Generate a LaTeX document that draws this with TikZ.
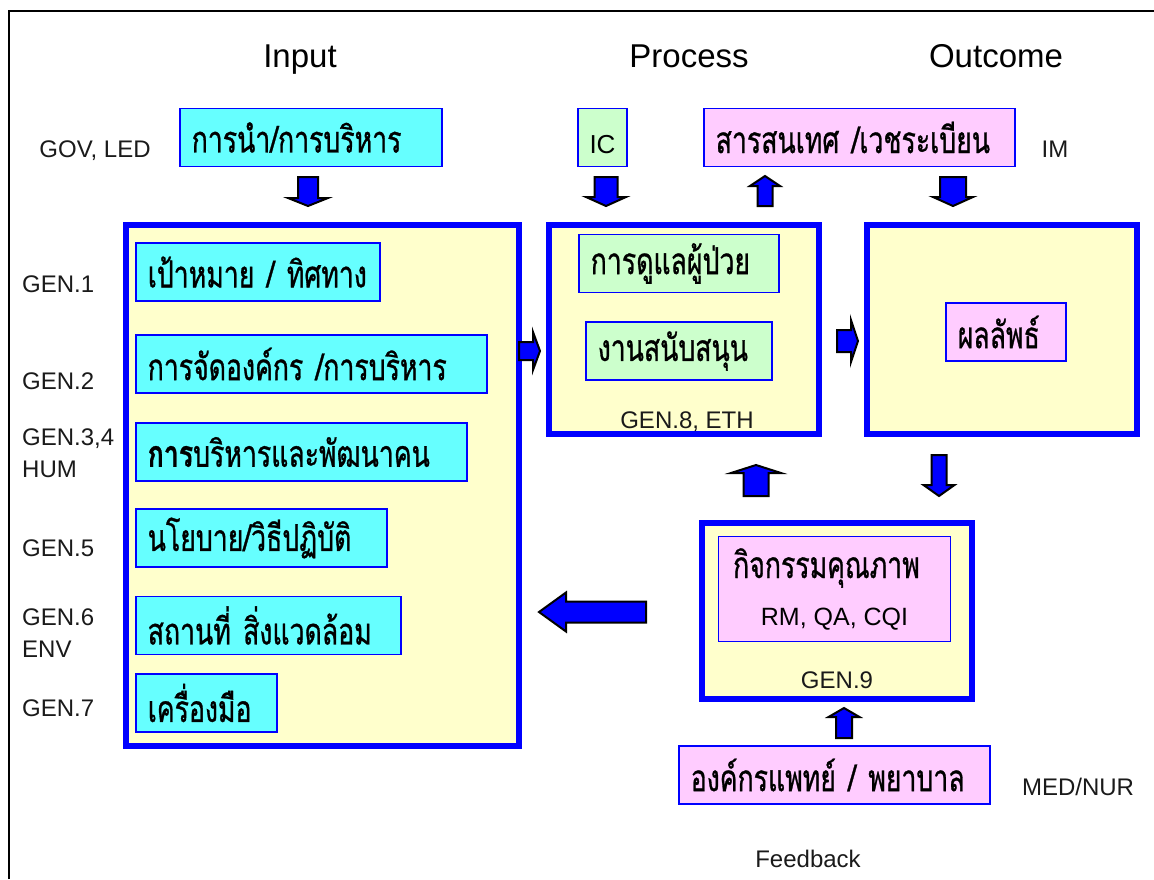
\documentclass[tikz,border=0pt]{standalone}
\usepackage{fontspec}
\setmainfont{Liberation Sans}
\newfontfamily\thaifont[Script=Thai,FakeStretch=0.72,FakeBold=0.8]{Loma}
\usetikzlibrary{calc}

\definecolor{boxblue}{HTML}{0000FF}
\definecolor{stagefill}{HTML}{FFFFCC}
\definecolor{cyanfill}{HTML}{66FFFF}
\definecolor{greenfill}{HTML}{CCFFCC}
\definecolor{pinkfill}{HTML}{FFCCFF}
\definecolor{labelgray}{HTML}{1A1A1A}

\newcommand{\thaisize}{\thaifont\fontsize{37}{40}\selectfont}

\begin{document}
\begin{tikzpicture}[x=1pt,y=-1pt]
\tikzset{
  frameline/.style={draw=black,line width=2pt},
  heading/.style={font=\fontsize{33}{36}\selectfont,anchor=base,inner sep=0pt},
  sidelabel/.style={font=\fontsize{24}{26}\selectfont,text=labelgray,anchor=base west,inner sep=0pt},
  midlabel/.style={font=\fontsize{24}{26}\selectfont,text=labelgray,anchor=base,inner sep=0pt},
  stagebox/.style={draw=boxblue,line width=6pt,fill=stagefill},
  itembox/.style={draw=boxblue,line width=1.5pt,minimum height=58,inner xsep=12pt,
    anchor=west,align=left,font=\thaisize},
  arrowbody/.style={draw=black,fill=boxblue,line width=2pt,line join=miter},
  pics/fatarrow/.style args={#1/#2/#3/#4}{code={
    \filldraw[arrowbody] (0,-#2/2) -- (#1-#4,-#2/2) -- (#1-#4,-#3/2) -- (#1,0)
      -- (#1-#4,#3/2) -- (#1-#4,#2/2) -- (0,#2/2) -- cycle;}}
}
\useasboundingbox (0,0) rectangle (1154,879);
\draw[frameline] (9,879) -- (9,11) -- (1154,11);

% headings
\node[heading] (h_input) at (300,67) {Input};
\node[heading] (h_process) at (689,67) {Process};
\node[heading] (h_outcome) at (996,67) {Outcome};

% stage boxes
\node[stagebox,minimum width=393,minimum height=521] (inputbox) at (322.5,485.5) {};
\node[stagebox,minimum width=270,minimum height=209] (procbox) at (684,329.5) {};
\node[stagebox,minimum width=270,minimum height=209] (outbox) at (1002,329.5) {};
\node[stagebox,minimum width=270,minimum height=176] (qualbox) at (837,611) {};

% top row
\node[itembox,fill=cyanfill,text width=238] (leadbox) at (179,137.5) {การนำ/การบริหาร};
\node[draw=boxblue,line width=1.5pt,fill=greenfill,minimum width=49,minimum height=58,
  inner sep=0pt,text height=31pt,text depth=0pt,font=\fontsize{26}{28}\selectfont] (icbox) at (602.5,137.5) {IC};
\node[itembox,fill=pinkfill,text width=287] (infobox) at (703,137.5) {สารสนเทศ /เวชระเบียน};

% input items
\node[itembox,fill=cyanfill,text width=220] (goalbox) at (135,272) {เป้าหมาย / ทิศทาง};
\node[itembox,fill=cyanfill,text width=327] (orgbox) at (135,364) {การจัดองค์กร /การบริหาร};
\node[itembox,fill=cyanfill,text width=307] (hrbox) at (135,452) {{\bfseries การ}บริหารและพัฒนาคน};
\node[itembox,fill=cyanfill,text width=227] (policybox) at (135,538) {นโยบาย/วิธีปฏิบัติ};
\node[itembox,fill=cyanfill,text width=241] (envbox) at (135,625.5) {สถานที่ สิ่งแวดล้อม};
\node[itembox,fill=cyanfill,text width=117] (toolbox) at (135,703) {เครื่องมือ};

% process and outcome items
\node[itembox,fill=greenfill,text width=176] (carebox) at (578,263.5) {การดูแลผู้ป่วย};
\node[itembox,fill=greenfill,text width=162] (supportbox) at (585,351) {งานสนับสนุน};
\node[itembox,fill=pinkfill,text width=96] (resultbox) at (945,332) {ผลลัพธ์};

% quality
\node[draw=boxblue,line width=1.5pt,fill=pinkfill,minimum width=232,minimum height=105,
  align=center,font=\fontsize{25}{30}\selectfont] (qualact) at (834.5,589)
  {{\thaisize กิจกรรมคุณภาพ}\hspace*{16pt}\\[17pt] RM, QA, CQI};
\node[itembox,fill=pinkfill,text width=287] (medbox) at (678,775) {องค์กรแพทย์ / พยาบาล};

% labels
\node[midlabel] (l_gov) at (95,157) {GOV, LED};
\node[midlabel] (l_im) at (1055,157) {IM};
\node[sidelabel] (l_gen1) at (22,292) {GEN.1};
\node[sidelabel] (l_gen2) at (22,389) {GEN.2};
\node[sidelabel] (l_gen34) at (22,445) {GEN.3,4};
\node[sidelabel] (l_hum) at (22,477) {HUM};
\node[sidelabel] (l_gen5) at (22,556) {GEN.5};
\node[sidelabel] (l_gen6) at (22,625) {GEN.6};
\node[sidelabel] (l_env) at (22,657) {ENV};
\node[sidelabel] (l_gen7) at (22,716) {GEN.7};
\node[midlabel] (l_gen8) at (687,428) {GEN.8, ETH};
\node[midlabel] (l_gen9) at (837,688) {GEN.9};
\node[midlabel] (l_med) at (1078,795) {MED/NUR};
\node[midlabel] (l_feedback) at (808,867) {Feedback};

% block arrows
\pic[rotate=-90] at (308,177) {fatarrow=29/20/40/8};
\pic[rotate=-90] at (606,177) {fatarrow=29/23/40/9};
\pic[rotate=90] at (765,206) {fatarrow=30/15/30/10};
\pic[rotate=-90] at (953,177) {fatarrow=29/26/40/9};
\pic at (519,351) {fatarrow=21/18/38/7};
\pic at (837,341) {fatarrow=21/22/42/7};
\pic[rotate=90] at (756,496) {fatarrow=31/25/50/8};
\pic[rotate=-90] at (939,455) {fatarrow=41/15/31/11};
\pic[rotate=180] at (646,612) {fatarrow=107/21/39/27};
\pic[rotate=90] at (844,738) {fatarrow=30/16/31/9};
\end{tikzpicture}
\end{document}
